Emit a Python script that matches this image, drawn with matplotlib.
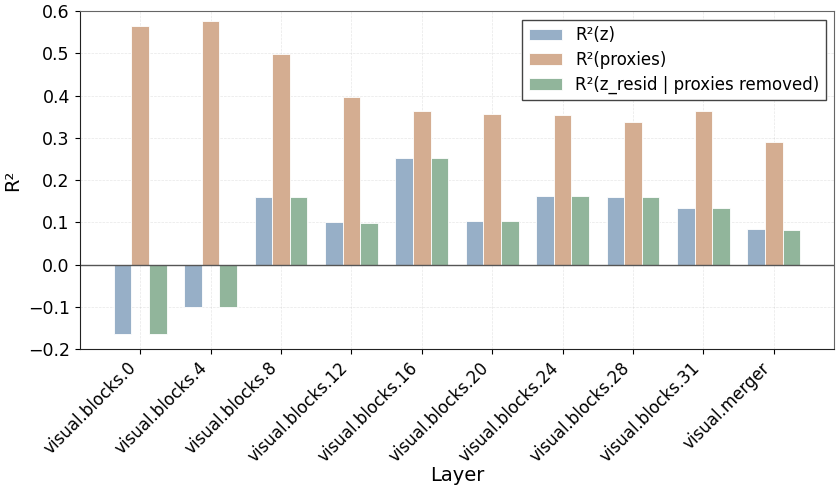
import matplotlib
matplotlib.use("Agg")
import matplotlib.pyplot as plt
import numpy as np

layers = ["visual.blocks.0", "visual.blocks.4", "visual.blocks.8", "visual.blocks.12",
          "visual.blocks.16", "visual.blocks.20", "visual.blocks.24", "visual.blocks.28",
          "visual.blocks.31", "visual.merger"]
r2_z = [-0.165, -0.099, 0.160, 0.101, 0.253, 0.104, 0.163, 0.161, 0.133, 0.084]
r2_proxies = [0.565, 0.576, 0.499, 0.398, 0.363, 0.356, 0.354, 0.338, 0.363, 0.291]
r2_resid = [-0.165, -0.099, 0.160, 0.099, 0.253, 0.104, 0.163, 0.161, 0.133, 0.083]

x = np.arange(len(layers))
w = 0.25

fig, ax = plt.subplots(figsize=(8.37, 4.87), dpi=100)
fig.subplots_adjust(left=0.095, right=0.997, top=0.977, bottom=0.283)
ax.bar(x - w, r2_z, w, color="#97afc7", edgecolor="white", linewidth=0.6, label="R²(z)")
ax.bar(x, r2_proxies, w, color="#d4ad91", edgecolor="white", linewidth=0.6, label="R²(proxies)")
ax.bar(x + w, r2_resid, w, color="#91b59b", edgecolor="white", linewidth=0.6,
       label="R²(z_resid | proxies removed)")

ax.axhline(0, color="#555555", linewidth=1.0)
ax.set_ylim(-0.2, 0.6)
ax.set_xticks(x)
ax.set_xticklabels(layers, rotation=45, ha="right", fontsize=12)
ax.tick_params(axis="y", labelsize=12.5)
ax.set_xlabel("Layer", fontsize=14, labelpad=0)
ax.set_ylabel("R²", fontsize=14)
ax.grid(True, linestyle="--", linewidth=0.5, alpha=0.3)
ax.set_axisbelow(True)
for side in ["left", "bottom"]:
    ax.spines[side].set_color("#222222")
for side in ["top", "right"]:
    ax.spines[side].set_color("#666666")
leg = ax.legend(fontsize=12, loc="upper right", fancybox=False, edgecolor="#444444",
                framealpha=1, labelspacing=0.4)

fig.savefig("out.png", dpi=100)
